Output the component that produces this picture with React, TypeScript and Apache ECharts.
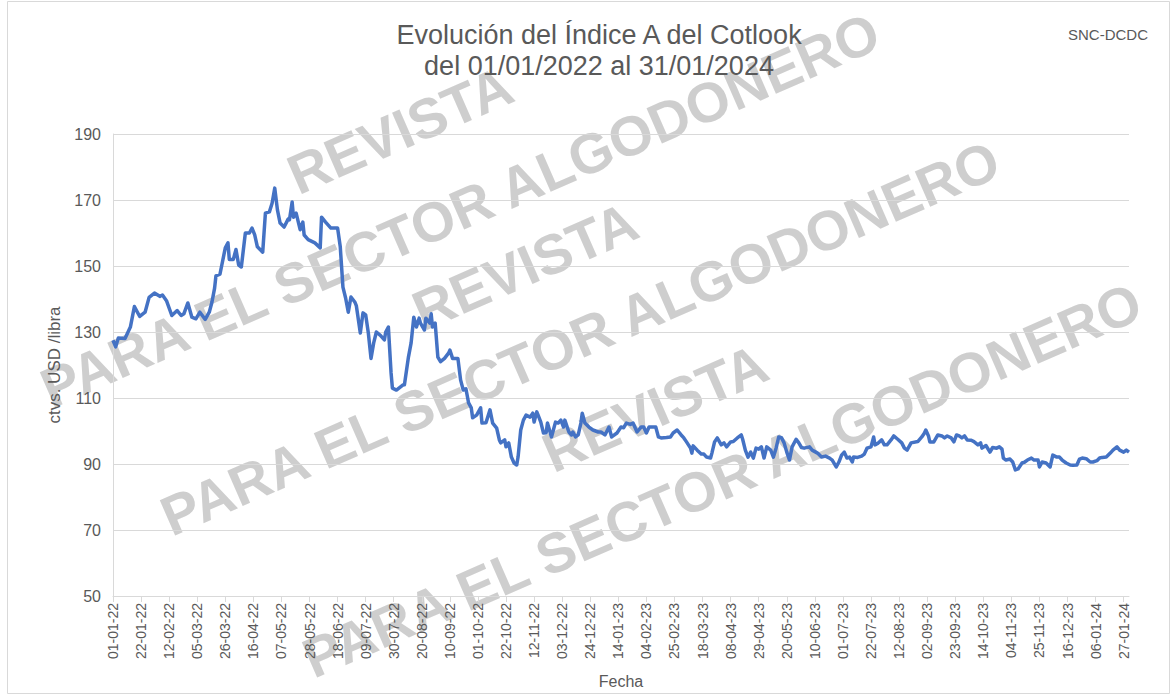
import React, { useEffect, useRef } from "react";
import * as echarts from "echarts";

const titleLines = ["Evolución del Índice A del Cotlook", "del 01/01/2022 al 31/01/2024"];
const sourceLabel = "SNC-DCDC";
const yAxisTitle = "ctvs. USD /libra";
const xAxisTitle = "Fecha";
const watermarkTop = "REVISTA";
const watermarkBottom = "PARA EL SECTOR ALGODONERO";

const yTicks = [50, 70, 90, 110, 130, 150, 170, 190];

// Sampled dates (dd-mm-yy) and Cotlook A index values (US cents / lb)
const sampleDates = [
  "01-01-22","03-01-22","05-01-22","10-01-22","14-01-22","17-01-22","21-01-22","25-01-22","28-01-22",
  "01-02-22","05-02-22","07-02-22","10-02-22","14-02-22","18-02-22","21-02-22","23-02-22","26-02-22",
  "01-03-22","04-03-22","07-03-22","11-03-22","14-03-22","16-03-22","18-03-22","19-03-22","22-03-22","26-03-22","28-03-22","29-03-22",
  "01-04-22","03-04-22","05-04-22","07-04-22","10-04-22","13-04-22","15-04-22","17-04-22","19-04-22","23-04-22","25-04-22","28-04-22","30-04-22",
  "02-05-22","04-05-22","06-05-22","09-05-22","12-05-22","13-05-22","15-05-22","16-05-22","18-05-22","21-05-22","23-05-22","24-05-22","27-05-22",
  "01-06-22","05-06-22","06-06-22","09-06-22","13-06-22","18-06-22","20-06-22","22-06-22","24-06-22","26-06-22","28-06-22",
  "01-07-22","02-07-22","05-07-22","07-07-22","09-07-22","11-07-22","13-07-22","15-07-22","17-07-22","20-07-22","23-07-22","24-07-22","26-07-22","28-07-22","29-07-22",
  "01-08-22","06-08-22","07-08-22","10-08-22","12-08-22","14-08-22","16-08-22","18-08-22","19-08-22","22-08-22","23-08-22","26-08-22","27-08-22","28-08-22","30-08-22",
  "01-09-22","03-09-22","06-09-22","09-09-22","10-09-22","12-09-22","16-09-22","18-09-22","20-09-22","22-09-22","24-09-22","26-09-22","27-09-22","30-09-22",
  "03-10-22","04-10-22","07-10-22","10-10-22","12-10-22","15-10-22","17-10-22","18-10-22","21-10-22","22-10-22","24-10-22","26-10-22","28-10-22","30-10-22","31-10-22",
  "02-11-22","04-11-22","06-11-22","09-11-22","11-11-22","12-11-22","14-11-22","15-11-22","17-11-22","19-11-22","21-11-22","22-11-22","25-11-22","28-11-22","30-11-22",
  "02-12-22","04-12-22","05-12-22","08-12-22","10-12-22","11-12-22","13-12-22","15-12-22","17-12-22","18-12-22","20-12-22","23-12-22","26-12-22","30-12-22",
  "01-01-23","04-01-23","07-01-23","09-01-23","13-01-23","16-01-23","18-01-23","20-01-23","23-01-23","25-01-23","28-01-23","31-01-23",
  "02-02-23","04-02-23","06-02-23","11-02-23","13-02-23","15-02-23","19-02-23","22-02-23","24-02-23","27-02-23",
  "02-03-23","04-03-23","06-03-23","09-03-23","10-03-23","11-03-23","14-03-23","17-03-23","19-03-23","21-03-23","24-03-23","25-03-23","27-03-23","29-03-23",
  "01-04-23","03-04-23","05-04-23","08-04-23","10-04-23","13-04-23","16-04-23","17-04-23","19-04-23","21-04-23","23-04-23","25-04-23","27-04-23","29-04-23",
  "01-05-23","03-05-23","05-05-23","08-05-23","10-05-23","12-05-23","14-05-23","16-05-23","18-05-23","20-05-23","22-05-23","24-05-23","27-05-23","29-05-23","31-05-23",
  "02-06-23","06-06-23","08-06-23","12-06-23","15-06-23","18-06-23","21-06-23","23-06-23","26-06-23","28-06-23","30-06-23",
  "02-07-23","04-07-23","06-07-23","08-07-23","09-07-23","12-07-23","15-07-23","17-07-23","19-07-23","22-07-23","24-07-23","25-07-23","27-07-23","30-07-23",
  "01-08-23","03-08-23","06-08-23","08-08-23","11-08-23","14-08-23","16-08-23","18-08-23","21-08-23","26-08-23","29-08-23","31-08-23",
  "01-09-23","03-09-23","04-09-23","07-09-23","10-09-23","13-09-23","15-09-23","17-09-23","20-09-23","22-09-23","24-09-23","26-09-23","28-09-23","30-09-23",
  "02-10-23","05-10-23","07-10-23","10-10-23","12-10-23","13-10-23","16-10-23","19-10-23","21-10-23","24-10-23","26-10-23","28-10-23","29-10-23","31-10-23",
  "03-11-23","05-11-23","07-11-23","09-11-23","12-11-23","14-11-23","16-11-23","19-11-23","21-11-23","24-11-23","25-11-23","27-11-23","30-11-23",
  "03-12-23","05-12-23","08-12-23","10-12-23","12-12-23","15-12-23","18-12-23","20-12-23","23-12-23","25-12-23","27-12-23","30-12-23",
  "02-01-24","04-01-24","07-01-24","09-01-24","11-01-24","14-01-24","17-01-24","19-01-24","22-01-24","24-01-24","27-01-24","29-01-24","31-01-24",
];

const sampleValues = [
  127.5,125.5,128.2,128,131.5,137.7,134.7,136,140.5,
  141.8,140.8,141.2,139.5,135,136.5,135,135.5,138.8,
  134.5,134,136,133.8,136,139,143.3,147,147.5,155.5,157,152,
  152,155,150.3,149.7,160,160,161.5,159.4,155.8,154.2,166,166.4,169,
  173.6,167,163,161.8,164.2,164,169.4,164.8,166,161,163.3,159.4,158,
  157,155.5,164.8,163.3,161.5,161.5,155.8,143.6,140.3,136,140.6,
  139,138,129.7,135.8,135.2,129.7,122,126.7,130,129,127.6,130,131.5,117.6,113,
  112.4,114,114,122.4,126.7,134.5,131.5,134.2,132.7,130.6,134.2,132.7,135.5,131.5,132.7,
  122.4,121,122,123.6,124.5,122,122,115.5,112.4,112.8,108.5,107,104,104.8,
  107,102.4,102.5,106.4,102.4,100.9,97.3,96.4,97.3,95.2,96.4,92.1,90.3,89.7,92.1,
  100.3,103.3,104.8,104.2,105.4,102.7,105.8,104.8,102.7,99.4,99.5,102.4,98.2,102.7,102.4,
  103.3,101.2,103.3,99.7,98.8,99.7,98.2,98.8,102.4,105.4,102.4,101.2,100.3,99.7,
  99.7,98.8,101.2,98.2,99.4,101.2,101,102.4,102,102.4,99.7,101.2,
  101.2,99.4,101.2,101.2,98.2,97.9,98,98.2,99.4,100.3,
  98.8,97.9,96.7,94.8,93.3,95.5,94.2,93,93,92.1,91.8,93.3,96.7,97.9,
  95.8,96.4,95.2,96.7,96.8,97.9,98.8,97.5,94.2,92.1,93.6,91.8,94.8,94.5,
  95.2,91.8,95.2,94.2,92.1,94.8,98.2,98,96.4,93.6,91.2,95.2,97.5,96.4,95,
  94.8,95.2,94.2,93.3,92.1,92.4,91.8,91.2,89.1,90.6,92.7,
  93.6,91.8,92.1,90.6,92.1,92,92.4,93,94.8,95.2,98.2,95.8,96.2,97.3,
  95.8,95.8,97.3,98.5,97.5,96.4,94.8,94.2,96.4,96.8,98.2,99.4,
  100.3,98.5,96.7,96.7,98.8,98.5,97.9,98.5,97.9,96.7,98.8,98.5,97.9,98.5,
  97.3,97.2,96.8,95.8,96.4,94.8,95.6,93.6,95,94.8,95.2,94.5,91.8,91.2,
  91.5,90.6,88.2,88.5,90.3,90.6,91.2,91.8,91.2,91.2,89.1,90.6,90.3,
  89.1,92.7,92.1,92.1,91.2,90.3,89.7,89.6,89.7,91.5,91.8,91.6,
  90.6,90.6,91,91.8,92,92.1,93.3,94.2,95.2,94.2,93.6,94.2,93.6,
];

const pad = (n: number) => (n < 10 ? "0" + n : "" + n);
function buildCategories(): string[] {
  const out: string[] = [];
  const start = Date.UTC(2022, 0, 1);
  const end = Date.UTC(2024, 0, 31);
  for (let t = start; t <= end; t += 86400000) {
    const d = new Date(t);
    out.push(pad(d.getUTCDate()) + "-" + pad(d.getUTCMonth() + 1) + "-" + pad(d.getUTCFullYear() % 100));
  }
  return out;
}

export default function App() {
  const ref = useRef<HTMLDivElement>(null);
  useEffect(() => {
    if (!ref.current) return;
    const chart = echarts.init(ref.current, null, { renderer: "svg" });
    const categories = buildCategories();
    const seriesData = sampleDates.map((d, i) => [d, sampleValues[i]]);
    const grey = "#595959";
    const font = "Arial, 'Liberation Sans', sans-serif";
    const wmStyle = (text: string) => ({
      text,
      font: "bold 56px Arial, 'Liberation Sans', sans-serif",
      fill: "rgba(190,190,190,0.75)",
      stroke: "rgba(255,255,255,0.9)",
      lineWidth: 2,
      align: "center",
      verticalAlign: "middle",
    });
    const rot = 0.41;
    const wm = [
      { x: 400, y: 130, t: watermarkTop },
      { x: 460, y: 210, t: watermarkBottom },
      { x: 525, y: 266, t: watermarkTop },
      { x: 580, y: 338, t: watermarkBottom },
      { x: 655, y: 408, t: watermarkTop },
      { x: 722, y: 480, t: watermarkBottom },
    ].map((w) => ({
      type: "text",
      x: w.x,
      y: w.y,
      rotation: rot,
      z: -1,
      silent: true,
      style: wmStyle(w.t),
    }));
    chart.setOption({
      animation: false,
      backgroundColor: "#ffffff",
      title: {
        text: titleLines.join("\n"),
        left: 594,
        top: 14,
        textAlign: "center",
        textStyle: {
          fontFamily: font,
          fontSize: 27,
          fontWeight: "normal",
          color: grey,
          lineHeight: 31,
        },
      },
      graphic: [
        {
          type: "rect",
          shape: { x: 7.5, y: 1.5, width: 1162, height: 692 },
          style: { fill: "none", stroke: "#d9d9d9", lineWidth: 1 },
          silent: true,
          z: -2,
        },
        {
          type: "text",
          x: 1068,
          y: 27,
          style: {
            text: sourceLabel,
            font: "15px Arial, 'Liberation Sans', sans-serif",
            fill: grey,
          },
          z: 5,
        },
        ...wm,
      ],
      grid: { left: 113, right: 47, top: 134, bottom: 101, containLabel: false },
      xAxis: {
        type: "category",
        data: categories,
        boundaryGap: false,
        name: xAxisTitle,
        nameLocation: "middle",
        nameGap: 77,
        nameTextStyle: { color: grey, fontSize: 16, fontFamily: font },
        axisLine: { show: true, lineStyle: { color: "#d9d9d9" } },
        axisTick: { show: true, interval: 20, length: 6, lineStyle: { color: "#d9d9d9" } },
        axisLabel: {
          interval: 20,
          rotate: 90,
          color: grey,
          fontSize: 14,
          fontFamily: font,
          margin: 7,
        },
        splitLine: { show: false },
      },
      yAxis: {
        type: "value",
        min: 50,
        max: 190,
        interval: 20,
        name: yAxisTitle,
        nameLocation: "middle",
        nameGap: 46,
        nameTextStyle: { color: grey, fontSize: 17, fontFamily: font },
        axisLine: { show: true, lineStyle: { color: "#d9d9d9" } },
        axisTick: { show: false },
        axisLabel: {
          color: grey,
          fontSize: 16,
          fontFamily: font,
          margin: 12,
          formatter: (v: number) => (yTicks.includes(v) ? String(v) : ""),
        },
        splitLine: { show: true, lineStyle: { color: "#d9d9d9" } },
      },
      series: [
        {
          type: "line",
          data: seriesData,
          showSymbol: false,
          symbol: "none",
          z: 5,
          lineStyle: { color: "#4472C4", width: 3.5, join: "round" },
          itemStyle: { color: "#4472C4" },
        },
      ],
    });
    return () => chart.dispose();
  }, []);
  return (
    <div
      ref={ref}
      style={{ position: "fixed", left: 0, top: 0, width: 1176, height: 697, background: "#fff" }}
    />
  );
}
